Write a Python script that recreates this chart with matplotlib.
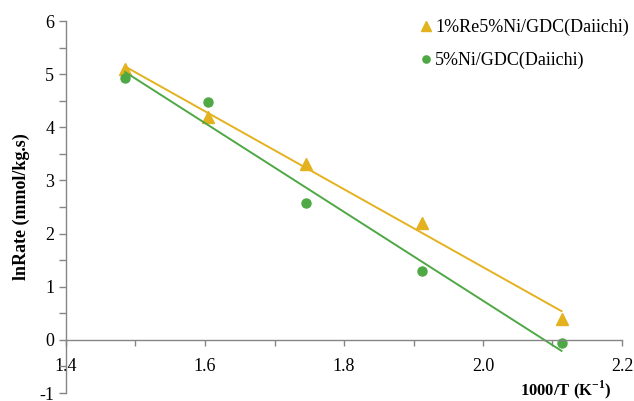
import matplotlib
matplotlib.use("Agg")
import matplotlib.pyplot as plt
from matplotlib.ticker import MultipleLocator
import numpy as np

plt.rcParams['font.family'] = ['Liberation Serif', 'DejaVu Serif']
plt.rcParams['axes.unicode_minus'] = False

# data
inv_T = [1.485, 1.605, 1.745, 1.912, 2.113]
rate_re_ni = [5.10, 4.20, 3.30, 2.20, 0.40]
rate_ni = [4.92, 4.47, 2.57, 1.30, -0.05]
labels = ["1%Re5%Ni/GDC(Daiichi)", "5%Ni/GDC(Daiichi)"]

gold = "#E3B21E"
green = "#4EA844"
axis_col = "#858585"

fig = plt.figure(figsize=(6.34, 4.01), dpi=100)
ax = fig.add_axes([66 / 634, 1 - 393 / 401, (622 - 66) / 634, (393 - 21) / 401])

x = np.array(inv_T)
for ys, col, mk, ms, lab in [(rate_re_ni, gold, "^", 8.5, labels[0]),
                             (rate_ni, green, "o", 6.5, labels[1])]:
    ys = np.array(ys)
    k, b = np.polyfit(x, ys, 1)
    ax.plot(x, ys, linestyle="none", marker=mk, markersize=ms, color=col, label=lab)
    xx = np.array([x.min(), x.max()])
    ax.plot(xx, k * xx + b, color=col, linewidth=1.4)

ax.set_xlim(1.4, 2.2)
ax.set_ylim(-1, 6)

ax.spines['top'].set_visible(False)
ax.spines['right'].set_visible(False)
ax.spines['bottom'].set_position(('data', 0))
for s in ['left', 'bottom']:
    ax.spines[s].set_color(axis_col)
    ax.spines[s].set_linewidth(1.0)

ax.xaxis.set_major_locator(MultipleLocator(0.2))
ax.xaxis.set_minor_locator(MultipleLocator(0.1))
ax.yaxis.set_major_locator(MultipleLocator(1))
ax.yaxis.set_minor_locator(MultipleLocator(0.5))
ax.xaxis.set_major_formatter(plt.FuncFormatter(lambda v, p: f"{v:.1f}"))
ax.tick_params(which='both', direction='out', color=axis_col, width=1.0, length=5,
               labelsize=13)
ax.tick_params(axis='x', which='both', length=4, pad=9)

ax.legend(loc='upper left', bbox_to_anchor=(408 / 634, 1 - 10 / 401),
          bbox_transform=fig.transFigure, frameon=False, fontsize=13,
          handletextpad=0.0, handlelength=1.0, labelspacing=0.85, borderpad=0,
          markerscale=0.8)

fig.text(612 / 634, 1 - 390 / 401, "1000/T (K$^{\\mathregular{-1}}$)", ha='right',
         va='center', fontsize=12, fontweight='bold')
fig.text(21 / 634, 1 - 207 / 401, "lnRate (mmol/kg.s)", ha='center', va='center',
         rotation=90, fontsize=13, fontweight='bold')

fig.savefig("out.png", dpi=100)
